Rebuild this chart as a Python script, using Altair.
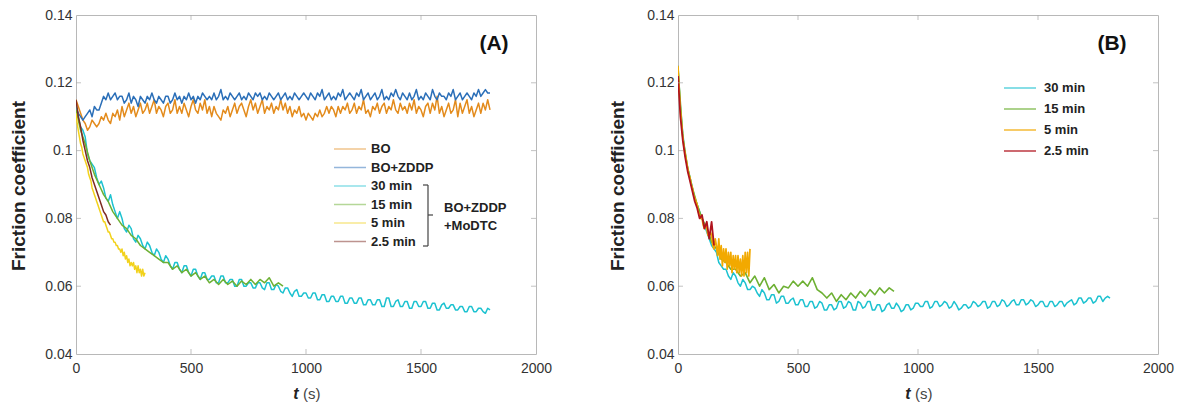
import altair as alt
import pandas as pd

FONT = "Liberation Sans"

X_TICKS = [0, 500, 1000, 1500, 2000]
Y_TICKS = [0.04, 0.06, 0.08, 0.1, 0.12, 0.14]
PANEL_LABELS = ["(A)", "(B)"]
Y_TITLE = "Friction coefficient"
X_TITLE_VAR = "t"
X_TITLE_UNIT = "(s)"
GROUP_NOTE = ["BO+ZDDP", "+MoDTC"]

# sample times (s)
T_1800 = list(range(0, 1801, 10))
T_900 = list(range(0, 901, 20))
T_300 = list(range(0, 301, 5))
T_150 = list(range(0, 151, 10))

# ---------------- Panel A ----------------
A_BO = [
    0.115, 0.113, 0.111, 0.109, 0.108, 0.106, 0.107, 0.109, 0.108, 0.107,
    0.108, 0.110, 0.109, 0.111, 0.109, 0.108, 0.111, 0.110, 0.112, 0.109,
    0.113, 0.110, 0.112, 0.114, 0.111, 0.113, 0.110, 0.112, 0.114, 0.111,
    0.112, 0.114, 0.111, 0.113, 0.115, 0.111, 0.113, 0.112, 0.110, 0.113,
    0.114, 0.111, 0.112, 0.115, 0.111, 0.113, 0.111, 0.114, 0.112, 0.110,
    0.113, 0.115, 0.112, 0.111, 0.114, 0.112, 0.115, 0.111, 0.113, 0.110,
    0.113, 0.111, 0.110, 0.109, 0.112, 0.111, 0.113, 0.110, 0.112, 0.114,
    0.111, 0.113, 0.114, 0.112, 0.110, 0.113, 0.115, 0.112, 0.114, 0.111,
    0.113, 0.115, 0.111, 0.113, 0.112, 0.114, 0.111, 0.113, 0.112, 0.115,
    0.112, 0.114, 0.111, 0.113, 0.110, 0.112, 0.111, 0.113, 0.110, 0.111,
    0.109, 0.111, 0.110, 0.109, 0.111, 0.110, 0.112, 0.110, 0.111, 0.113,
    0.111, 0.113, 0.112, 0.110, 0.113, 0.111, 0.113, 0.112, 0.114, 0.111,
    0.112, 0.114, 0.111, 0.113, 0.112, 0.115, 0.111, 0.112, 0.110, 0.113,
    0.112, 0.114, 0.111, 0.113, 0.114, 0.111, 0.113, 0.112, 0.115, 0.112,
    0.111, 0.114, 0.112, 0.113, 0.111, 0.114, 0.112, 0.115, 0.111, 0.113,
    0.112, 0.110, 0.113, 0.114, 0.111, 0.114, 0.112, 0.116, 0.111, 0.113,
    0.110, 0.112, 0.114, 0.111, 0.112, 0.115, 0.110, 0.114, 0.111, 0.113,
    0.115, 0.111, 0.113, 0.110, 0.112, 0.114, 0.111, 0.114, 0.112, 0.115,
    0.112,
]
A_ZDDP = [
    0.113, 0.111, 0.110, 0.109, 0.110, 0.111, 0.112, 0.110, 0.113, 0.112,
    0.112, 0.114, 0.116, 0.115, 0.117, 0.115, 0.116, 0.117, 0.115, 0.116,
    0.116, 0.114, 0.115, 0.117, 0.114, 0.116, 0.115, 0.113, 0.116, 0.115,
    0.114, 0.116, 0.115, 0.117, 0.115, 0.114, 0.116, 0.115, 0.114, 0.116,
    0.116, 0.114, 0.115, 0.117, 0.115, 0.116, 0.114, 0.116, 0.115, 0.117,
    0.115, 0.116, 0.114, 0.116, 0.115, 0.117, 0.116, 0.115, 0.116, 0.115,
    0.117, 0.115, 0.116, 0.118, 0.115, 0.116, 0.115, 0.117, 0.116, 0.115,
    0.116, 0.117, 0.115, 0.116, 0.115, 0.117, 0.116, 0.115, 0.117, 0.116,
    0.117, 0.115, 0.116, 0.115, 0.117, 0.116, 0.115, 0.116, 0.117, 0.115,
    0.116, 0.117, 0.115, 0.116, 0.115, 0.117, 0.116, 0.115, 0.116, 0.117,
    0.116, 0.115, 0.117, 0.116, 0.115, 0.117, 0.116, 0.118, 0.115, 0.116,
    0.117, 0.115, 0.116, 0.115, 0.117, 0.116, 0.118, 0.115, 0.116, 0.117,
    0.116, 0.115, 0.117, 0.116, 0.118, 0.115, 0.116, 0.117, 0.115, 0.116,
    0.117, 0.115, 0.116, 0.118, 0.115, 0.116, 0.115, 0.117, 0.116, 0.118,
    0.116, 0.115, 0.117, 0.116, 0.115, 0.117, 0.115, 0.116, 0.118, 0.115,
    0.116, 0.115, 0.117, 0.116, 0.115, 0.118, 0.116, 0.115, 0.117, 0.116,
    0.116, 0.115, 0.117, 0.116, 0.118, 0.115, 0.116, 0.117, 0.115, 0.116,
    0.117, 0.116, 0.115, 0.117, 0.116, 0.118, 0.116, 0.117, 0.118, 0.117,
    0.117,
]
A_30 = [
    0.113, 0.110, 0.107, 0.106, 0.104, 0.099, 0.097, 0.096, 0.095, 0.092,
    0.090, 0.091, 0.089, 0.086, 0.085, 0.087, 0.084, 0.082, 0.080, 0.082,
    0.080, 0.077, 0.076, 0.078, 0.077, 0.074, 0.073, 0.075, 0.074, 0.072,
    0.071, 0.073, 0.072, 0.070, 0.069, 0.071, 0.070, 0.068, 0.067, 0.069,
    0.068, 0.066, 0.065, 0.067, 0.067, 0.065, 0.064, 0.066, 0.066, 0.064,
    0.063, 0.065, 0.065, 0.063, 0.062, 0.064, 0.064, 0.062, 0.062, 0.063,
    0.063, 0.061, 0.061, 0.063, 0.063, 0.061, 0.061, 0.062, 0.062, 0.060,
    0.060, 0.062, 0.062, 0.060, 0.060, 0.061, 0.061, 0.0595, 0.0595, 0.061,
    0.061, 0.0595, 0.059, 0.061, 0.061, 0.059, 0.059, 0.0605, 0.060, 0.0585,
    0.058, 0.0595, 0.0595, 0.058, 0.057, 0.0585, 0.059, 0.057, 0.057, 0.058,
    0.058, 0.0565, 0.0565, 0.058, 0.058, 0.056, 0.056, 0.0575, 0.0575, 0.0555,
    0.0555, 0.057, 0.057, 0.0555, 0.0555, 0.057, 0.057, 0.055, 0.055, 0.0565,
    0.0565, 0.055, 0.055, 0.0565, 0.0565, 0.0545, 0.0545, 0.056, 0.056, 0.0545,
    0.0545, 0.056, 0.056, 0.054, 0.054, 0.0565, 0.0565, 0.054, 0.054, 0.0555,
    0.056, 0.054, 0.054, 0.0555, 0.0555, 0.0535, 0.0535, 0.0555, 0.0555, 0.054,
    0.054, 0.0555, 0.0555, 0.0535, 0.0535, 0.055, 0.055, 0.053, 0.053, 0.0545,
    0.055, 0.0535, 0.0535, 0.0545, 0.0545, 0.053, 0.053, 0.054, 0.054, 0.0525,
    0.0525, 0.054, 0.054, 0.0525, 0.0525, 0.0535, 0.0535, 0.0525, 0.052, 0.0535,
    0.053,
]
A_15 = [
    0.112, 0.106, 0.102, 0.097, 0.093, 0.090, 0.087, 0.085, 0.082, 0.080,
    0.078, 0.077, 0.075, 0.074, 0.072, 0.071, 0.070, 0.069, 0.068, 0.067,
    0.067, 0.065, 0.066, 0.064, 0.065, 0.063, 0.064, 0.062, 0.063, 0.061,
    0.062, 0.0605, 0.062, 0.0605, 0.0615, 0.060, 0.0615, 0.0605, 0.062, 0.0605,
    0.062, 0.061, 0.0625, 0.060, 0.061, 0.060,
]
A_5 = [
    0.111, 0.108, 0.106, 0.104, 0.102, 0.101, 0.099, 0.098, 0.097, 0.096,
    0.095, 0.093, 0.092, 0.091, 0.089, 0.088, 0.087, 0.086, 0.085, 0.084,
    0.083, 0.082, 0.081, 0.080, 0.079, 0.079, 0.078, 0.077, 0.076, 0.076,
    0.075, 0.074, 0.074, 0.073, 0.073, 0.072, 0.072, 0.071, 0.071, 0.070,
    0.071, 0.069, 0.070, 0.068, 0.069, 0.067, 0.068, 0.066, 0.067, 0.066,
    0.067, 0.065, 0.066, 0.064, 0.066, 0.064, 0.065, 0.063, 0.065, 0.063,
    0.064,
]
A_25 = [
    0.115, 0.110, 0.107, 0.103, 0.100, 0.097, 0.095, 0.092, 0.090, 0.088,
    0.086, 0.084, 0.082, 0.081, 0.079, 0.078,
]

# ---------------- Panel B ----------------
B_30 = [
    0.125, 0.113, 0.105, 0.099, 0.095, 0.092, 0.089, 0.086, 0.084, 0.082,
    0.080, 0.078, 0.076, 0.074, 0.072, 0.071, 0.070, 0.067, 0.066, 0.065,
    0.065, 0.063, 0.062, 0.064, 0.063, 0.061, 0.060, 0.062, 0.061, 0.059,
    0.059, 0.060, 0.0595, 0.058, 0.057, 0.059, 0.058, 0.056, 0.056, 0.0575,
    0.0575, 0.055, 0.0555, 0.057, 0.057, 0.055, 0.055, 0.056, 0.0565, 0.0545,
    0.0545, 0.056, 0.056, 0.054, 0.054, 0.0555, 0.0555, 0.0535, 0.054, 0.0555,
    0.055, 0.053, 0.053, 0.0545, 0.0545, 0.053, 0.0535, 0.0555, 0.0555, 0.0535,
    0.054, 0.0555, 0.055, 0.053, 0.053, 0.0555, 0.055, 0.0535, 0.054, 0.0555,
    0.0555, 0.053, 0.053, 0.0545, 0.0545, 0.0525, 0.053, 0.0545, 0.055, 0.0535,
    0.0535, 0.055, 0.054, 0.0525, 0.053, 0.0545, 0.0545, 0.053, 0.0535, 0.055,
    0.055, 0.054, 0.054, 0.0555, 0.0555, 0.0535, 0.054, 0.0555, 0.0555, 0.054,
    0.0545, 0.0555, 0.055, 0.0535, 0.054, 0.0555, 0.0545, 0.053, 0.0535, 0.0545,
    0.0545, 0.0535, 0.054, 0.0555, 0.055, 0.054, 0.0545, 0.0555, 0.0555, 0.0535,
    0.054, 0.0555, 0.0555, 0.054, 0.0545, 0.056, 0.0555, 0.054, 0.0545, 0.0555,
    0.056, 0.0545, 0.0545, 0.056, 0.056, 0.0545, 0.055, 0.056, 0.0555, 0.054,
    0.0545, 0.0555, 0.0555, 0.054, 0.054, 0.0555, 0.0555, 0.054, 0.0545, 0.0555,
    0.0555, 0.054, 0.055, 0.0555, 0.056, 0.0545, 0.055, 0.0565, 0.0565, 0.055,
    0.0555, 0.0565, 0.0565, 0.055, 0.0555, 0.057, 0.057, 0.0555, 0.0565, 0.057,
    0.0565,
]
B_15 = [
    0.124, 0.104, 0.095, 0.089, 0.084, 0.080, 0.077, 0.073, 0.071, 0.068,
    0.067, 0.065, 0.065, 0.063, 0.064, 0.061, 0.063, 0.060, 0.0625, 0.059,
    0.0605, 0.058, 0.060, 0.0595, 0.0615, 0.060, 0.0615, 0.060, 0.0625, 0.059,
    0.058, 0.0565, 0.058, 0.0555, 0.0575, 0.056, 0.058, 0.0565, 0.0585, 0.057,
    0.059, 0.0575, 0.0595, 0.058, 0.0595, 0.0585,
]
B_5 = [
    0.125, 0.118, 0.112, 0.108, 0.104, 0.101, 0.099, 0.097, 0.095, 0.093,
    0.092, 0.090, 0.089, 0.087, 0.086, 0.085, 0.084, 0.082, 0.081, 0.080,
    0.080, 0.078, 0.077, 0.078, 0.077, 0.075, 0.075, 0.076, 0.075, 0.072,
    0.071, 0.074, 0.072, 0.069, 0.074, 0.068, 0.072, 0.066, 0.071, 0.067,
    0.071, 0.065, 0.070, 0.066, 0.070, 0.064, 0.069, 0.065, 0.069, 0.064,
    0.069, 0.064, 0.068, 0.063, 0.069, 0.063, 0.070, 0.064, 0.070, 0.063,
    0.071,
]
B_25 = [
    0.122, 0.110, 0.103, 0.098, 0.094, 0.091, 0.088, 0.085, 0.083, 0.080,
    0.081, 0.077, 0.079, 0.074, 0.079, 0.072,
]

NAMES_A = ["BO", "BO+ZDDP", "30 min", "15 min", "5 min", "2.5 min"]
COLORS_A = ["#E38B1C", "#2B6FB8", "#1CC2D0", "#6DB033", "#F2D21C", "#7E2A22"]
WIDTHS_A = [1.5, 1.5, 1.5, 1.6, 3.4, 2.0]
NAMES_B = ["30 min", "15 min", "5 min", "2.5 min"]
COLORS_B = ["#1CC2D0", "#6DB033", "#F2A900", "#B0141E"]
WIDTHS_B = [1.5, 1.8, 2.6, 2.6]


def frame(key, name, t, v):
    assert len(t) == len(v), (name, len(t), len(v))
    return pd.DataFrame({"t": t, "mu": v, key: name})


df_a = pd.concat([
    frame("sa", "BO", T_1800, A_BO),
    frame("sa", "BO+ZDDP", T_1800, A_ZDDP),
    frame("sa", "30 min", T_1800, A_30),
    frame("sa", "15 min", T_900, A_15),
    frame("sa", "5 min", T_300, A_5),
    frame("sa", "2.5 min", T_150, A_25),
], ignore_index=True)

df_b = pd.concat([
    frame("sb", "30 min", T_1800, B_30),
    frame("sb", "15 min", T_900, B_15),
    frame("sb", "5 min", T_300, B_5),
    frame("sb", "2.5 min", T_150, B_25),
], ignore_index=True)

H = 339
ONE = pd.DataFrame({"k": [0]})
XT = pd.DataFrame({"t": X_TICKS[1:-1]})
YT = pd.DataFrame({"mu": Y_TICKS[1:-1]})
TICK_COLOR = "#a8a8a8"


def panel(df, key, names, colors, widths, width, legend_kw, label, label_x, title_x):
    x = alt.X("t:Q", scale=alt.Scale(domain=[0, 2000], nice=False),
              axis=alt.Axis(values=X_TICKS, format="d", title=None, labelPadding=7,
                            labelFlush=False))
    y = alt.Y("mu:Q", scale=alt.Scale(domain=[0.04, 0.14], nice=False, zero=False),
              axis=alt.Axis(values=Y_TICKS, format="~g", title=Y_TITLE,
                            titleX=title_x, titleY=H / 2 + 1, titleAngle=270,
                            titleAlign="center", titleBaseline="middle",
                            labelPadding=4, labelFlush=False))
    lines = alt.Chart(df).mark_line(clip=True, strokeJoin="round").encode(
        x=x, y=y,
        color=alt.Color(f"{key}:N", scale=alt.Scale(domain=names, range=colors),
                        legend=alt.Legend(title=None, orient="none", symbolType="stroke",
                                          symbolSize=1024, symbolStrokeWidth=2,
                                          labelFontSize=13, labelFontWeight="bold",
                                          labelColor="#222", labelFont=FONT,
                                          clipHeight=14, padding=0, **legend_kw)),
        strokeWidth=alt.StrokeWidth(f"{key}:N", scale=alt.Scale(domain=names, range=widths),
                                    legend=None),
    )
    # inward tick marks on all four sides (MATLAB box style)
    ticks = []
    for ypix in (H - 2.5, 2.5):
        ticks.append(alt.Chart(XT).mark_tick(color=TICK_COLOR, size=5, thickness=1,
                                             orient="vertical").encode(
            x=alt.X("t:Q"), y=alt.value(ypix)))
    for xpix in (2.5, width - 2.5):
        ticks.append(alt.Chart(YT).mark_tick(color=TICK_COLOR, size=5, thickness=1,
                                             orient="horizontal").encode(
            y=alt.Y("mu:Q"), x=alt.value(xpix)))
    lab = alt.Chart(ONE).mark_text(text=label, font=FONT, fontSize=21, fontWeight="bold",
                                   color="#111").encode(x=alt.value(label_x), y=alt.value(29))
    tvar = alt.Chart(ONE).mark_text(text=X_TITLE_VAR, font=FONT, fontSize=16, fontStyle="italic",
                                    fontWeight="bold", color="#222").encode(
        x=alt.value(width / 2 - 10), y=alt.value(H + 40))
    tunit = alt.Chart(ONE).mark_text(text=X_TITLE_UNIT, font=FONT, fontSize=15, align="left",
                                     color="#444").encode(
        x=alt.value(width / 2 - 3), y=alt.value(H + 40))
    return [lines] + ticks + [lab, tvar, tunit]


layers_a = panel(df_a, "sa", NAMES_A, COLORS_A, WIDTHS_A, 460,
                 dict(legendX=257, legendY=127, rowPadding=4.5, labelOffset=4, symbolOpacity=0.5),
                 PANEL_LABELS[0], 418, -58)

# bracket + group note in panel A
BR = "#444"
br_v = alt.Chart(ONE).mark_rule(color=BR, strokeWidth=1.2).encode(
    x=alt.value(352), y=alt.value(170), y2=alt.value(231))
br_t = alt.Chart(ONE).mark_rule(color=BR, strokeWidth=1.2).encode(
    x=alt.value(347), x2=alt.value(352), y=alt.value(170))
br_b = alt.Chart(ONE).mark_rule(color=BR, strokeWidth=1.2).encode(
    x=alt.value(347), x2=alt.value(352), y=alt.value(231))
br_m = alt.Chart(ONE).mark_rule(color=BR, strokeWidth=1.2).encode(
    x=alt.value(352), x2=alt.value(357), y=alt.value(200))
note1 = alt.Chart(ONE).mark_text(text=GROUP_NOTE[0], font=FONT, fontSize=13, fontWeight="bold",
                                 align="left", color="#222").encode(x=alt.value(368), y=alt.value(193))
note2 = alt.Chart(ONE).mark_text(text=GROUP_NOTE[1], font=FONT, fontSize=13, fontWeight="bold",
                                 align="left", color="#222").encode(x=alt.value(368), y=alt.value(211))

left = alt.layer(*layers_a, br_v, br_t, br_b, br_m, note1, note2).properties(width=460, height=H)

layers_b = panel(df_b, "sb", NAMES_B, COLORS_B, WIDTHS_B, 480,
                 dict(legendX=325, legendY=66, rowPadding=7, labelOffset=7, symbolOpacity=0.7),
                 PANEL_LABELS[1], 434, -61)
right = alt.layer(*layers_b).properties(width=480, height=H)

chart = alt.hconcat(left, right, spacing=142, bounds="flush").resolve_scale(
    color="independent", strokeWidth="independent"
).properties(
    padding={"left": 8, "top": 7, "right": 5, "bottom": 5}
).configure_view(
    stroke="#b8b8b8", strokeWidth=1
).configure_axis(
    domain=False, ticks=False, grid=False,
    labelFont=FONT, labelFontSize=14, labelColor="#333",
    titleFont=FONT, titleFontSize=19, titleFontWeight="bold", titleColor="#222",
)

chart.save("out.html", embed_options={"renderer": "svg", "actions": False})
